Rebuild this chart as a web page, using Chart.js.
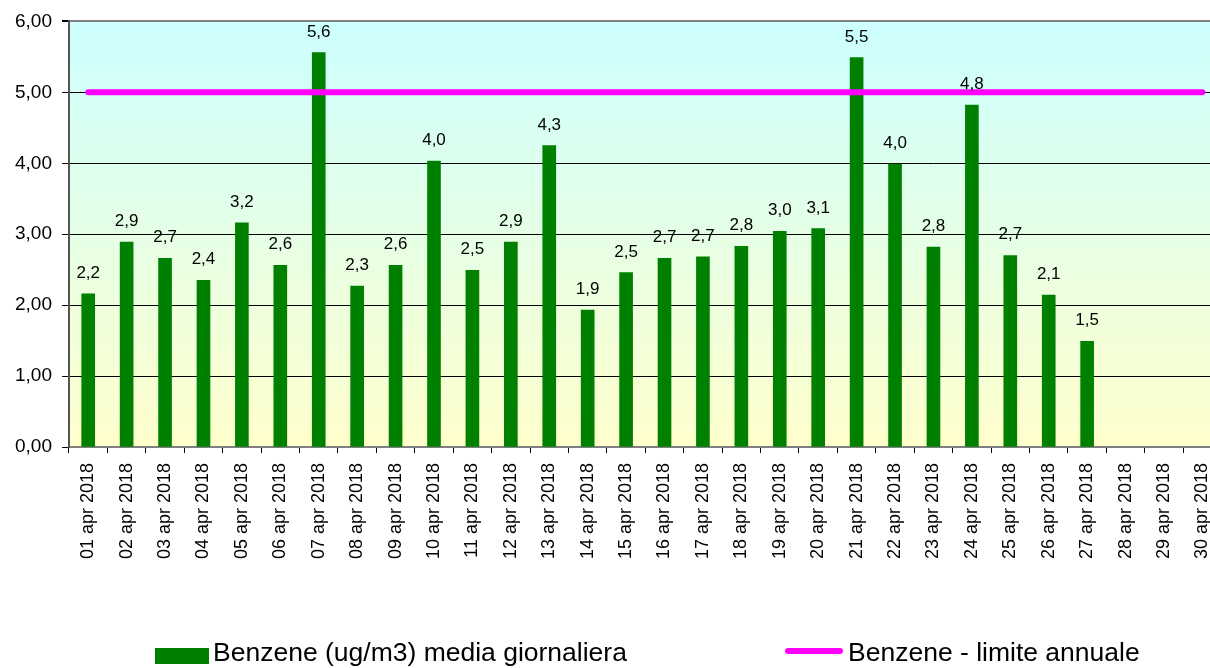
<!DOCTYPE html>
<html>
<head>
<meta charset="utf-8">
<script src="https://cdn.jsdelivr.net/npm/chart.js@4.4.1/dist/chart.umd.min.js"></script>
<style>
  html, body { margin: 0; padding: 0; background: #fff; overflow: hidden; }
  #wrap { position: absolute; left: 0; top: 0; width: 1234px; height: 668px; }
  .leg { position: absolute; font-family: "Liberation Sans", Arial, sans-serif; font-size: 26.5px; color: #000; white-space: nowrap; }
  .sw { position: absolute; }
</style>
</head>
<body>
<div id="wrap"><canvas id="myChart"></canvas></div>
<div class="sw" style="left:155px; top:648px; width:54px; height:16px; background:#008000;"></div>
<div class="leg" style="left:213px; top:637px;">Benzene (ug/m3) media giornaliera</div>
<div class="sw" style="left:785px; top:648px; width:58px; height:6px; border-radius:3px; background:#ff00ff;"></div>
<div class="leg" style="left:848px; top:637px;">Benzene - limite annuale</div>
<script>
const days = ['01 apr 2018', '02 apr 2018', '03 apr 2018', '04 apr 2018', '05 apr 2018', '06 apr 2018',
    '07 apr 2018', '08 apr 2018', '09 apr 2018', '10 apr 2018', '11 apr 2018', '12 apr 2018',
    '13 apr 2018', '14 apr 2018', '15 apr 2018', '16 apr 2018', '17 apr 2018', '18 apr 2018',
    '19 apr 2018', '20 apr 2018', '21 apr 2018', '22 apr 2018', '23 apr 2018', '24 apr 2018',
    '25 apr 2018', '26 apr 2018', '27 apr 2018', '28 apr 2018', '29 apr 2018', '30 apr 2018'];

const benzeneDaily = [2.16, 2.89, 2.66, 2.35, 3.16, 2.56, 5.56, 2.27, 2.56, 4.03, 2.49, 2.89,
    4.25, 1.93, 2.46, 2.66, 2.68, 2.83, 3.04, 3.08, 5.49, 3.99, 2.82, 4.82, 2.70, 2.14, 1.49,
    null, null, null];

const annualLimit = [5, 5, 5, 5, 5, 5, 5, 5, 5, 5, 5, 5, 5, 5, 5, 5, 5, 5, 5, 5, 5, 5, 5, 5, 5, 5, 5, 5, 5, 5];

const yTicks = [0, 1, 2, 3, 4, 5, 6];

const comma = (v, d) => v.toFixed(d).replace('.', ',');

// gradient behind the plot
const plotBg = {
    id: 'plotBg',
    beforeDraw(chart) {
        const { ctx, chartArea: a } = chart;
        const g = ctx.createLinearGradient(0, a.top, 0, a.bottom);
        g.addColorStop(0, '#ccffff');
        g.addColorStop(1, '#ffffcc');
        ctx.save();
        ctx.fillStyle = g;
        ctx.fillRect(a.left, a.top, a.right - a.left, a.bottom - a.top);
        ctx.restore();
    }
};

// value labels above the bars
const barLabels = {
    id: 'barLabels',
    afterDatasetsDraw(chart) {
        const { ctx } = chart;
        const meta = chart.getDatasetMeta(0);
        ctx.save();
        ctx.font = '17px "Liberation Sans", Arial, sans-serif';
        ctx.fillStyle = '#000';
        ctx.textAlign = 'center';
        ctx.textBaseline = 'alphabetic';
        meta.data.forEach((bar, i) => {
            const v = benzeneDaily[i];
            if (v == null) return;
            ctx.fillText(comma(v, 1), bar.x, bar.y - 16);
        });
        ctx.restore();
    }
};

Chart.defaults.font.family = '"Liberation Sans", Arial, sans-serif';
Chart.defaults.color = '#000';

new Chart(document.getElementById('myChart'), {
    data: {
        labels: days,
        datasets: [{
            type: 'bar',
            label: 'Benzene (ug/m3) media giornaliera',
            data: benzeneDaily,
            backgroundColor: '#008000',
            barThickness: 13,
            order: 1
        }, {
            type: 'line',
            label: 'Benzene - limite annuale',
            data: annualLimit,
            borderColor: '#ff00ff',
            borderWidth: 6,
            borderCapStyle: 'round',
            pointRadius: 0,
            tension: 0,
            order: 0
        }]
    },
    options: {
        responsive: true,
        maintainAspectRatio: false,
        animation: false,
        layout: { padding: { top: 21, right: 0, bottom: 0, left: 0 } },
        plugins: {
            legend: { display: false },
            tooltip: { enabled: false }
        },
        scales: {
            x: {
                offset: true,
                afterFit: s => { s.height = 221; },
                border: { color: '#808080', width: 2 },
                grid: { offset: true, drawOnChartArea: false, tickLength: 6, tickColor: '#000' },
                ticks: {
                    autoSkip: false,
                    minRotation: 90,
                    maxRotation: 90,
                    padding: 10,
                    font: { size: 18 }
                }
            },
            y: {
                min: 0,
                max: 6,
                afterFit: s => { s.width = 69; },
                afterBuildTicks: s => { s.ticks = yTicks.map(v => ({ value: v })); },
                border: { color: '#555', width: 2 },
                grid: {
                    tickLength: 7,
                    tickColor: '#000',
                    color: c => c.tick && c.tick.value === 6 ? '#808080' : (c.tick && c.tick.value === 0 ? 'rgba(0,0,0,0)' : '#000'),
                    lineWidth: c => c.tick && c.tick.value === 6 ? 2 : 1
                },
                ticks: {
                    padding: 10,
                    font: { size: 19 },
                    callback: v => comma(v, 2)
                }
            }
        }
    },
    plugins: [plotBg, barLabels]
});
</script>
</body>
</html>
